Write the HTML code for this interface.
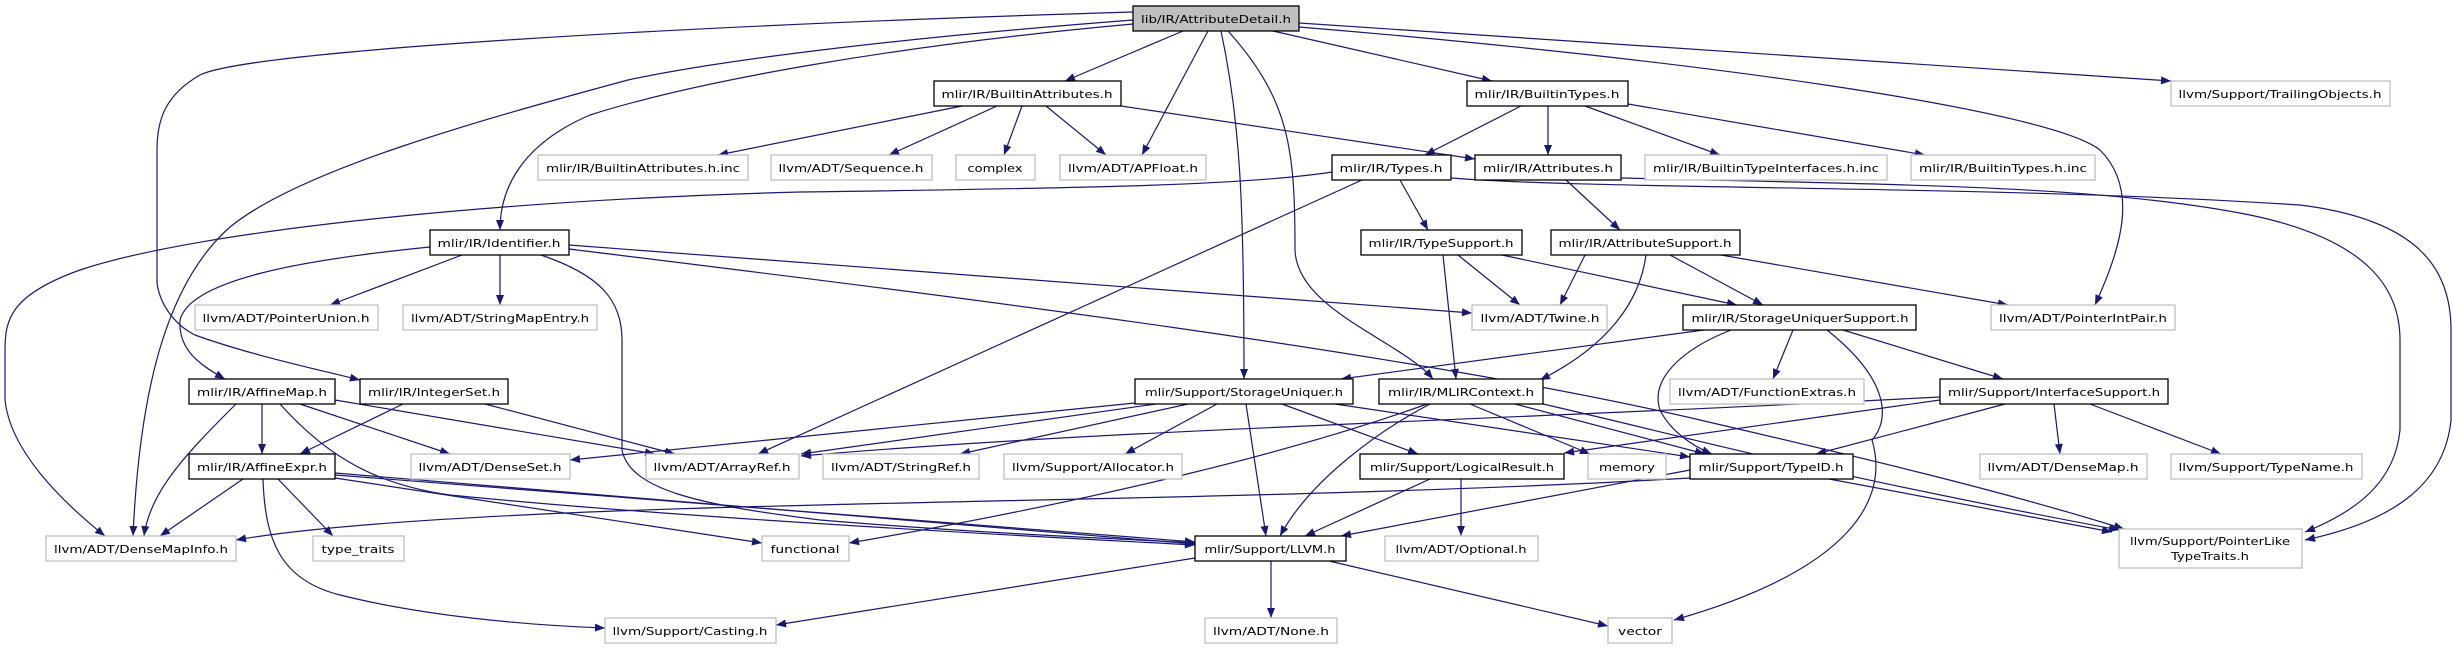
<!DOCTYPE html>
<html><head><meta charset="utf-8"><style>
html,body{margin:0;padding:0;background:#fff;}
svg{display:block;}
text{font-family:"DejaVu Sans","Liberation Sans",sans-serif;font-size:11px;fill:#000;}
.e{fill:none;stroke:#191970;stroke-width:1.2;marker-end:url(#a);}
.b{fill:#fff;stroke:#000;stroke-width:1.3;}
.g{fill:#fff;stroke:#bfbfbf;stroke-width:1.3;}
</style></head><body>
<svg width="2453" height="649" viewBox="0 0 2453 649" xmlns="http://www.w3.org/2000/svg">
<defs><marker id="a" viewBox="0 0 10 8" refX="10" refY="4" markerWidth="11" markerHeight="8" markerUnits="userSpaceOnUse" orient="auto"><path d="M0,0 L10,4 L0,8 z" fill="#191970"/></marker></defs>
<g>
<!-- AD edges -->
<path class="e" d="M1183,31 L1065,81"/>
<path class="e" d="M1208,31 L1142,155"/>
<path class="e" d="M1221,31 C1240,120 1244,200 1244,379"/>
<path class="e" d="M1228,31 C1290,100 1295,150 1295,250 C1297,310 1400,340 1433,379"/>
<path class="e" d="M1273,31 L1492,81"/>
<path class="e" d="M1299,23 L2171,81"/>
<path class="e" d="M1299,27 C1700,60 2050,110 2100,150 C2140,190 2120,250 2095,305"/>
<path class="e" d="M1133,24 C900,45 700,80 590,115 C520,145 500,190 500,230"/>
<path class="e" d="M1133,20 C900,38 720,60 628,80 C480,120 300,170 230,227 C170,280 140,380 133,536"/>
<path class="e" d="M1133,12 C700,25 250,50 200,75 C165,95 157,120 157,150 L157,283 C160,305 175,325 195,335 C250,355 320,370 360,380"/>
<!-- Types -->
<path class="e" d="M1332,172 C1250,185 1100,188 800,192 C500,200 200,230 80,270 C10,295 5,320 5,350 L5,400 C10,450 60,500 105,536"/>
<path class="e" d="M1362,180 L758,454"/>
<path class="e" d="M1400,180 L1428,230"/>
<path class="e" d="M1451,178 C1600,190 2000,185 2300,205 C2420,220 2451,270 2451,330 L2451,420 C2445,480 2400,520 2305,540"/>
<path class="e" d="M1621,178 C1900,185 2100,185 2250,215 C2370,240 2400,290 2400,340 L2400,430 C2395,480 2360,510 2305,532"/>
<!-- BA -->
<path class="e" d="M962,106 L718,155"/>
<path class="e" d="M997,106 L889,155"/>
<path class="e" d="M1022,106 L1004,155"/>
<path class="e" d="M1046,106 L1106,155"/>
<path class="e" d="M1121,106 L1475,159"/>
<!-- BT -->
<path class="e" d="M1521,106 L1425,155"/>
<path class="e" d="M1548,106 L1548,155"/>
<path class="e" d="M1585,106 L1720,155"/>
<path class="e" d="M1628,104 L1925,155"/>
<path class="e" d="M1566,180 L1620,230"/>
<!-- Identifier -->
<path class="e" d="M462,255 L330,305"/>
<path class="e" d="M500,255 L500,305"/>
<path class="e" d="M569,245 L1472,313"/>
<path class="e" d="M569,249 C900,290 1400,350 1700,420 C1850,455 2000,490 2124,529"/>
<path class="e" d="M430,247 C300,260 190,280 180,320 C178,350 200,365 225,379"/>
<path class="e" d="M541,255 C600,275 622,300 622,340 L622,450 C630,490 700,505 820,520 C1000,535 1150,540 1195,543"/>
<!-- TS / AS -->
<path class="e" d="M1458,255 L1520,305"/>
<path class="e" d="M1443,255 L1456,379"/>
<path class="e" d="M1502,255 L1737,305"/>
<path class="e" d="M1585,255 L1560,305"/>
<path class="e" d="M1670,255 L1763,305"/>
<path class="e" d="M1721,255 L2008,305"/>
<path class="e" d="M1646,255 C1640,300 1610,345 1540,380"/>
<!-- SUS -->
<path class="e" d="M1704,330 L1341,379"/>
<path class="e" d="M1793,330 L1773,379"/>
<path class="e" d="M1843,330 L2003,379"/>
<path class="e" d="M1731,330 C1680,350 1650,380 1660,410 C1670,430 1690,445 1712,454"/>
<path class="e" d="M1827,330 C1890,380 1890,420 1872,440 C1890,500 1850,570 1674,620"/>
<!-- IFS -->
<path class="e" d="M1940,400 L1564,453"/>
<path class="e" d="M2005,404 L1816,454"/>
<path class="e" d="M2054,404 L2060,454"/>
<path class="e" d="M2090,404 L2221,454"/>
<path class="e" d="M1940,397 C1500,420 1100,430 801,456"/>
<!-- SU -->
<path class="e" d="M1135,403 L570,460"/>
<path class="e" d="M1156,404 L801,454"/>
<path class="e" d="M1188,404 L960,454"/>
<path class="e" d="M1217,404 L1125,454"/>
<path class="e" d="M1282,404 L1418,454"/>
<path class="e" d="M1246,404 L1266,536"/>
<path class="e" d="M1335,404 L1690,457"/>
<!-- MC -->
<path class="e" d="M1470,404 L1590,454"/>
<path class="e" d="M1515,404 L1705,454"/>
<path class="e" d="M1427,404 C1300,450 1100,500 849,543"/>
<path class="e" d="M1430,404 C1380,430 1310,480 1280,536"/>
<path class="e" d="M1543,404 C1700,440 1800,470 2119,530"/>
<!-- LR / TID -->
<path class="e" d="M1430,479 L1305,536"/>
<path class="e" d="M1461,479 L1461,536"/>
<path class="e" d="M1690,478 C1400,495 1000,500 820,505 C600,510 350,520 236,540"/>
<path class="e" d="M1690,470 L1341,536"/>
<path class="e" d="M1829,479 L2112,532"/>
<!-- LLVM -->
<path class="e" d="M1271,561 L1271,618"/>
<path class="e" d="M1329,561 L1608,626"/>
<path class="e" d="M1195,558 L776,625"/>
<!-- AE -->
<path class="e" d="M243,479 L160,536"/>
<path class="e" d="M278,479 L333,536"/>
<path class="e" d="M263,479 C265,540 280,580 340,595 C420,615 520,625 605,628"/>
<path class="e" d="M335,478 L762,543"/>
<path class="e" d="M335,475 L1195,542"/>
<path class="e" d="M335,473 L1195,544"/>
<!-- AM / IS -->
<path class="e" d="M262,404 L262,454"/>
<path class="e" d="M236,404 C190,450 150,490 144,536"/>
<path class="e" d="M300,404 L450,454"/>
<path class="e" d="M335,400 L655,454"/>
<path class="e" d="M280,404 C330,460 380,485 450,495 C700,520 1100,540 1195,545"/>
<path class="e" d="M403,404 L300,454"/>
<path class="e" d="M485,404 L675,454"/>
</g>
<g>
<rect x="1133" y="6" width="166" height="25" fill="#bfbfbf" stroke="#000" stroke-width="1.3"/><text x="1216" y="23" text-anchor="middle" textLength="150" lengthAdjust="spacingAndGlyphs">lib/IR/AttributeDetail.h</text>
<rect class="b" x="934" y="81" width="187" height="25"/><text x="1027" y="98" text-anchor="middle" textLength="171" lengthAdjust="spacingAndGlyphs">mlir/IR/BuiltinAttributes.h</text>
<rect class="b" x="1467" y="81" width="161" height="25"/><text x="1547" y="98" text-anchor="middle" textLength="145" lengthAdjust="spacingAndGlyphs">mlir/IR/BuiltinTypes.h</text>
<rect class="g" x="2171" y="81" width="219" height="25"/><text x="2280" y="98" text-anchor="middle" textLength="203" lengthAdjust="spacingAndGlyphs">llvm/Support/TrailingObjects.h</text>
<rect class="g" x="538" y="155" width="210" height="25"/><text x="643" y="172" text-anchor="middle" textLength="194" lengthAdjust="spacingAndGlyphs">mlir/IR/BuiltinAttributes.h.inc</text>
<rect class="g" x="771" y="155" width="161" height="25"/><text x="851" y="172" text-anchor="middle" textLength="145" lengthAdjust="spacingAndGlyphs">llvm/ADT/Sequence.h</text>
<rect class="g" x="956" y="155" width="79" height="25"/><text x="995" y="172" text-anchor="middle" textLength="55" lengthAdjust="spacingAndGlyphs">complex</text>
<rect class="g" x="1060" y="155" width="146" height="25"/><text x="1133" y="172" text-anchor="middle" textLength="130" lengthAdjust="spacingAndGlyphs">llvm/ADT/APFloat.h</text>
<rect class="b" x="1332" y="155" width="119" height="25"/><text x="1391" y="172" text-anchor="middle" textLength="103" lengthAdjust="spacingAndGlyphs">mlir/IR/Types.h</text>
<rect class="b" x="1475" y="155" width="146" height="25"/><text x="1548" y="172" text-anchor="middle" textLength="130" lengthAdjust="spacingAndGlyphs">mlir/IR/Attributes.h</text>
<rect class="g" x="1645" y="155" width="242" height="25"/><text x="1766" y="172" text-anchor="middle" textLength="226" lengthAdjust="spacingAndGlyphs">mlir/IR/BuiltinTypeInterfaces.h.inc</text>
<rect class="g" x="1911" y="155" width="184" height="25"/><text x="2003" y="172" text-anchor="middle" textLength="168" lengthAdjust="spacingAndGlyphs">mlir/IR/BuiltinTypes.h.inc</text>
<rect class="b" x="430" y="230" width="139" height="25"/><text x="499" y="247" text-anchor="middle" textLength="123" lengthAdjust="spacingAndGlyphs">mlir/IR/Identifier.h</text>
<rect class="b" x="1361" y="230" width="161" height="25"/><text x="1441" y="247" text-anchor="middle" textLength="145" lengthAdjust="spacingAndGlyphs">mlir/IR/TypeSupport.h</text>
<rect class="b" x="1551" y="230" width="189" height="25"/><text x="1645" y="247" text-anchor="middle" textLength="173" lengthAdjust="spacingAndGlyphs">mlir/IR/AttributeSupport.h</text>
<rect class="g" x="195" y="305" width="183" height="25"/><text x="286" y="322" text-anchor="middle" textLength="167" lengthAdjust="spacingAndGlyphs">llvm/ADT/PointerUnion.h</text>
<rect class="g" x="403" y="305" width="194" height="25"/><text x="500" y="322" text-anchor="middle" textLength="178" lengthAdjust="spacingAndGlyphs">llvm/ADT/StringMapEntry.h</text>
<rect class="g" x="1472" y="305" width="135" height="25"/><text x="1540" y="322" text-anchor="middle" textLength="119" lengthAdjust="spacingAndGlyphs">llvm/ADT/Twine.h</text>
<rect class="b" x="1683" y="305" width="233" height="25"/><text x="1800" y="322" text-anchor="middle" textLength="217" lengthAdjust="spacingAndGlyphs">mlir/IR/StorageUniquerSupport.h</text>
<rect class="g" x="1991" y="305" width="184" height="25"/><text x="2083" y="322" text-anchor="middle" textLength="168" lengthAdjust="spacingAndGlyphs">llvm/ADT/PointerIntPair.h</text>
<rect class="b" x="189" y="379" width="146" height="25"/><text x="262" y="396" text-anchor="middle" textLength="130" lengthAdjust="spacingAndGlyphs">mlir/IR/AffineMap.h</text>
<rect class="b" x="360" y="379" width="148" height="25"/><text x="434" y="396" text-anchor="middle" textLength="132" lengthAdjust="spacingAndGlyphs">mlir/IR/IntegerSet.h</text>
<rect class="b" x="1135" y="379" width="218" height="25"/><text x="1244" y="396" text-anchor="middle" textLength="198" lengthAdjust="spacingAndGlyphs">mlir/Support/StorageUniquer.h</text>
<rect class="b" x="1379" y="379" width="164" height="25"/><text x="1461" y="396" text-anchor="middle" textLength="146" lengthAdjust="spacingAndGlyphs">mlir/IR/MLIRContext.h</text>
<rect class="g" x="1670" y="379" width="194" height="25"/><text x="1767" y="396" text-anchor="middle" textLength="178" lengthAdjust="spacingAndGlyphs">llvm/ADT/FunctionExtras.h</text>
<rect class="b" x="1940" y="379" width="228" height="25"/><text x="2054" y="396" text-anchor="middle" textLength="212" lengthAdjust="spacingAndGlyphs">mlir/Support/InterfaceSupport.h</text>
<rect class="b" x="189" y="454" width="146" height="25"/><text x="262" y="471" text-anchor="middle" textLength="130" lengthAdjust="spacingAndGlyphs">mlir/IR/AffineExpr.h</text>
<rect class="g" x="411" y="454" width="159" height="25"/><text x="490" y="471" text-anchor="middle" textLength="143" lengthAdjust="spacingAndGlyphs">llvm/ADT/DenseSet.h</text>
<rect class="g" x="646" y="454" width="153" height="25"/><text x="722" y="471" text-anchor="middle" textLength="137" lengthAdjust="spacingAndGlyphs">llvm/ADT/ArrayRef.h</text>
<rect class="g" x="823" y="454" width="156" height="25"/><text x="901" y="471" text-anchor="middle" textLength="140" lengthAdjust="spacingAndGlyphs">llvm/ADT/StringRef.h</text>
<rect class="g" x="1004" y="454" width="178" height="25"/><text x="1093" y="471" text-anchor="middle" textLength="162" lengthAdjust="spacingAndGlyphs">llvm/Support/Allocator.h</text>
<rect class="b" x="1360" y="454" width="204" height="25"/><text x="1462" y="471" text-anchor="middle" textLength="184" lengthAdjust="spacingAndGlyphs">mlir/Support/LogicalResult.h</text>
<rect class="g" x="1588" y="454" width="78" height="25"/><text x="1627" y="471" text-anchor="middle" textLength="56" lengthAdjust="spacingAndGlyphs">memory</text>
<rect class="b" x="1690" y="454" width="163" height="25"/><text x="1771" y="471" text-anchor="middle" textLength="145" lengthAdjust="spacingAndGlyphs">mlir/Support/TypeID.h</text>
<rect class="g" x="1980" y="454" width="167" height="25"/><text x="2063" y="471" text-anchor="middle" textLength="151" lengthAdjust="spacingAndGlyphs">llvm/ADT/DenseMap.h</text>
<rect class="g" x="2171" y="454" width="191" height="25"/><text x="2266" y="471" text-anchor="middle" textLength="175" lengthAdjust="spacingAndGlyphs">llvm/Support/TypeName.h</text>
<rect class="g" x="46" y="536" width="190" height="25"/><text x="141" y="553" text-anchor="middle" textLength="174" lengthAdjust="spacingAndGlyphs">llvm/ADT/DenseMapInfo.h</text>
<rect class="g" x="313" y="536" width="91" height="25"/><text x="358" y="553" text-anchor="middle" textLength="73" lengthAdjust="spacingAndGlyphs">type_traits</text>
<rect class="g" x="762" y="536" width="87" height="25"/><text x="805" y="553" text-anchor="middle" textLength="69" lengthAdjust="spacingAndGlyphs">functional</text>
<rect class="b" x="1195" y="536" width="151" height="25"/><text x="1270" y="553" text-anchor="middle" textLength="131" lengthAdjust="spacingAndGlyphs">mlir/Support/LLVM.h</text>
<rect class="g" x="1385" y="536" width="153" height="25"/><text x="1461" y="553" text-anchor="middle" textLength="131" lengthAdjust="spacingAndGlyphs">llvm/ADT/Optional.h</text>
<rect class="g" x="2119" y="529" width="183" height="39"/><text x="2210" y="545" text-anchor="middle" textLength="160" lengthAdjust="spacingAndGlyphs">llvm/Support/PointerLike</text><text x="2210" y="560" text-anchor="middle" textLength="78" lengthAdjust="spacingAndGlyphs">TypeTraits.h</text>
<rect class="g" x="605" y="618" width="171" height="25"/><text x="690" y="635" text-anchor="middle" textLength="155" lengthAdjust="spacingAndGlyphs">llvm/Support/Casting.h</text>
<rect class="g" x="1205" y="618" width="132" height="25"/><text x="1271" y="635" text-anchor="middle" textLength="116" lengthAdjust="spacingAndGlyphs">llvm/ADT/None.h</text>
<rect class="g" x="1608" y="618" width="64" height="25"/><text x="1640" y="635" text-anchor="middle" textLength="44" lengthAdjust="spacingAndGlyphs">vector</text>
</g>
</svg>
</body></html>
